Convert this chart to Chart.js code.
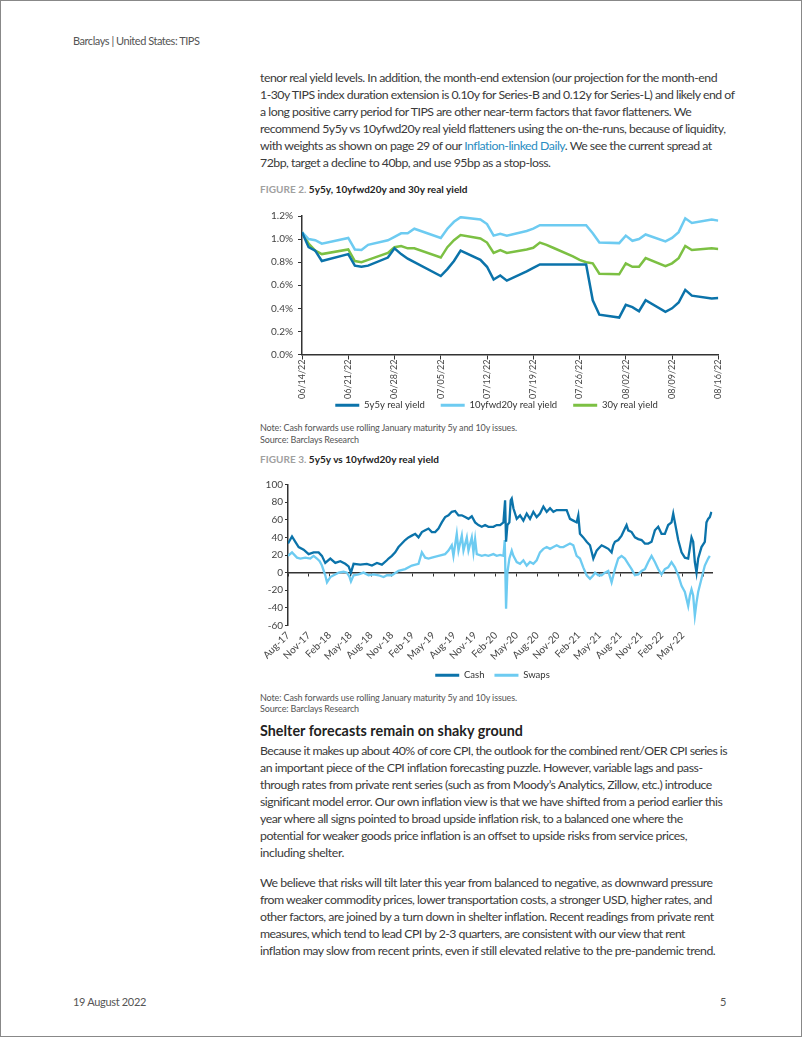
<!DOCTYPE html>
<html lang="en">
<head>
<meta charset="UTF-8">
<title>Barclays | United States: TIPS</title>
<script src="https://cdn.jsdelivr.net/npm/chart.js@4.4.0/dist/chart.umd.min.js"></script>
<style>
  html, body { margin: 0; padding: 0; }
  body { width: 802px; height: 1037px; position: relative; background: #fff; font-family: Lato, sans-serif; color: #333; overflow: hidden; }
  .frame { position: absolute; left: 0; top: 0; width: 802px; height: 1037px; border: 1px solid #888; box-sizing: border-box; }
  .abs { position: absolute; white-space: nowrap; }
  .txt { left: 260px; font-size: 12.3px; line-height: 17px; color: #3a3a3a; }
  .txt div { height: 17px; width: max-content; }
  .hdr { left: 73px; font-size: 11px; color: #555; width: max-content; }
  .cap { left: 260px; font-size: 10px; line-height: 14px; color: #222; font-weight: bold; width: max-content; }
  .cap span { color: #a0a0a0; font-weight: bold; }
  .note { left: 260px; font-size: 9px; line-height: 11.5px; color: #555; }
  .note div { width: max-content; }
  .head { left: 260px; font-size: 14.3px; line-height: 18px; font-weight: bold; color: #222; width: max-content; }
  a { color: #2a8dc2; text-decoration: none; }
  .box { position: absolute; }
</style>
</head>
<body>
<div class="frame"></div>
<div class="abs hdr" style="top:34px" data-r="199.5">Barclays | United States: TIPS</div>

<div class="abs txt" id="p1" style="top:68.5px">
  <div>tenor real yield levels. In addition, the month-end extension (our projection for the month-end</div>
  <div>1-30y TIPS index duration extension is 0.10y for Series-B and 0.12y for Series-L) and likely end of</div>
  <div>a long positive carry period for TIPS are other near-term factors that favor flatteners. We</div>
  <div>recommend 5y5y vs 10yfwd20y real yield flatteners using the on-the-runs, because of liquidity,</div>
  <div>with weights as shown on page 29 of our <a>Inflation-linked Daily</a>. We see the current spread at</div>
  <div>72bp, target a decline to 40bp, and use 95bp as a stop-loss.</div>
</div>

<div class="abs cap" style="top:182px" data-r="467.5"><span>FIGURE 2.</span> 5y5y, 10yfwd20y and 30y real yield</div>
<div class="box" style="left:255px; top:200px; width:483px; height:220px;"><canvas id="realYield"></canvas></div>
<div class="abs note" style="top:422px"><div data-r="517">Note: Cash forwards use rolling January maturity 5y and 10y issues.</div><div data-r="359">Source: Barclays Research</div></div>

<div class="abs cap" style="top:452px" data-r="439"><span>FIGURE 3.</span> 5y5y vs 10yfwd20y real yield</div>
<div class="box" style="left:255px; top:470px; width:475px; height:220px;"><canvas id="spread"></canvas></div>
<div class="abs note" style="top:691.5px"><div data-r="517">Note: Cash forwards use rolling January maturity 5y and 10y issues.</div><div data-r="359">Source: Barclays Research</div></div>

<div class="abs head" style="top:721.7px" data-r="523">Shelter forecasts remain on shaky ground</div>
<div class="abs txt" style="top:742.2px">
  <div class="ref" data-r="727">Because it makes up about 40% of core CPI, the outlook for the combined rent/OER CPI series is</div>
  <div class="ref" data-r="703">an important piece of the CPI inflation forecasting puzzle. However, variable lags and pass-</div>
  <div class="ref" data-r="712">through rates from private rent series (such as from Moody’s Analytics, Zillow, etc.) introduce</div>
  <div class="ref" data-r="722">significant model error. Our own inflation view is that we have shifted from a period earlier this</div>
  <div class="ref" data-r="683">year where all signs pointed to broad upside inflation risk, to a balanced one where the</div>
  <div class="ref" data-r="687">potential for weaker goods price inflation is an offset to upside risks from service prices,</div>
  <div data-r="344">including shelter.</div>
</div>
<div class="abs txt" style="top:873.8px">
  <div class="ref" data-r="713">We believe that risks will tilt later this year from balanced to negative, as downward pressure</div>
  <div class="ref" data-r="712">from weaker commodity prices, lower transportation costs, a stronger USD, higher rates, and</div>
  <div class="ref" data-r="714">other factors, are joined by a turn down in shelter inflation. Recent readings from private rent</div>
  <div class="ref" data-r="685">measures, which tend to lead CPI by 2-3 quarters, are consistent with our view that rent</div>
  <div class="ref" data-r="716">inflation may slow from recent prints, even if still elevated relative to the pre-pandemic trend.</div>
</div>

<div class="abs hdr" style="top:995px" data-r="146">19 August 2022</div>
<div class="abs hdr" style="top:995px; left:720px">5</div>

<script>
// ---- Figure 2 data (daily, business days) ----
const dates = ['06/14/22','06/15/22','06/16/22','06/17/22','06/21/22','06/22/22','06/23/22','06/24/22','06/27/22','06/28/22',
  '06/29/22','06/30/22','07/01/22','07/05/22','07/06/22','07/07/22','07/08/22','07/11/22','07/12/22','07/13/22',
  '07/14/22','07/15/22','07/18/22','07/19/22','07/20/22','07/21/22','07/22/22','07/25/22','07/26/22','07/27/22',
  '07/28/22','07/29/22','08/01/22','08/02/22','08/03/22','08/04/22','08/05/22','08/08/22','08/09/22','08/10/22',
  '08/11/22','08/12/22','08/15/22','08/16/22'];
const y5y5 = [1.06,0.93,0.90,0.81,0.87,0.77,0.76,0.77,0.84,0.92,
  0.87,0.83,0.80,0.68,0.74,0.81,0.90,0.82,0.76,0.65,
  0.685,0.64,0.72,0.75,0.78,0.78,0.78,0.78,0.78,0.78,
  0.47,0.345,0.32,0.43,0.41,0.375,0.47,0.37,0.40,0.45,
  0.56,0.51,0.485,0.49];
const y10f20 = [1.06,1.00,0.99,0.96,1.01,0.91,0.905,0.95,0.99,1.02,
  1.05,1.05,1.09,1.01,1.09,1.15,1.19,1.17,1.13,1.03,
  1.045,1.03,1.07,1.09,1.12,1.12,1.12,1.12,1.12,1.12,
  1.05,0.97,0.965,1.03,0.985,1.00,1.04,0.98,1.01,1.06,
  1.18,1.14,1.17,1.16];
const y30 = [1.06,0.96,0.90,0.87,0.91,0.81,0.80,0.82,0.88,0.93,
  0.94,0.92,0.92,0.84,0.93,0.99,1.035,1.005,0.97,0.88,
  0.905,0.88,0.91,0.925,0.97,0.95,0.925,0.85,0.82,0.80,
  0.79,0.70,0.695,0.79,0.76,0.76,0.835,0.765,0.79,0.835,
  0.94,0.905,0.92,0.915];

// ---- Figure 3 data (x = months since Aug-17, bp) ----
const cashT = [0,0.58,1.06,1.54,2.26,2.98,3.70,4.42,4.90,5.38,6.11,6.83,7.55,8.27,8.75,9.09,9.47,10.43,11.39,12.12,12.84,13.56,14.28,
  14.52,15.0,15.48,15.96,16.44,16.92,17.40,17.88,18.37,18.85,19.33,19.81,20.29,20.77,21.25,21.73,22.21,22.69,23.17,23.65,24.13,24.62,25.10,25.58,26.06,26.54,27.02,27.5,27.98,28.46,28.94,
  29.66,30.14,30.63,31.11,31.35,31.49,31.68,31.97,32.16,32.31,32.55,33.03,33.51,33.99,34.47,34.95,35.43,35.91,36.39,36.88,37.36,37.84,38.32,38.80,39.28,39.76,40.24,40.72,41.2,41.68,41.92,42.16,42.64,43.13,43.61,44.09,44.57,
  44.81,45.29,45.77,46.25,46.73,46.97,47.21,47.69,48.17,48.65,48.89,49.13,49.62,50.10,50.58,51.06,51.54,52.02,52.5,52.98,53.46,53.94,54.42,54.9,55.38,55.63,55.87,56.35,56.83,57.31,57.79,58.27,58.51,58.75,58.99,59.23,59.71,60.19,60.43,60.67,60.91,61.15];
const cashV = [33,41,35,29,26,21,23,23,19,11,16,11,13,10,7,0,10,9,10,8,11,9,14,
  16,19,23,29,33,37,40,42,44,40,46,48,50,46,46,50,57,63,65,69,70,65,65,63,61,64,57,54,52,54,52,
  52,54,54,57,82,35,54,57,82,84,73,61,65,59,67,61,69,63,67,75,69,73,69,71,71,71,71,61,59,57,65,44,40,35,31,16,25,
  27,31,29,27,23,31,35,37,42,50,54,48,46,40,38,37,33,33,35,48,52,44,44,54,57,67,57,37,23,17,16,40,35,12,0,16,29,35,57,61,63,69];
const swapT = [0,0.58,1.30,1.78,2.5,3.22,3.70,4.18,4.57,4.90,5.38,5.63,6.11,6.59,7.31,8.03,8.51,8.89,9.09,9.47,10.19,10.91,11.63,12.36,13.08,13.80,14.28,
  15.0,15.96,16.92,17.88,18.85,19.33,19.81,20.29,20.77,21.73,22.69,23.17,23.65,23.89,24.37,24.62,25.10,25.34,25.82,26.06,26.54,26.78,27.02,27.26,27.98,28.46,28.94,
  29.66,30.14,30.63,31.11,31.30,31.49,31.68,31.97,32.31,32.55,33.03,33.51,33.99,34.47,34.95,35.43,35.91,36.39,36.88,37.36,37.84,38.32,38.80,39.28,39.76,40.24,40.72,41.2,41.68,42.16,42.64,43.13,43.61,44.09,
  44.33,44.81,45.29,45.77,46.25,46.73,47.21,47.69,48.17,48.65,49.13,49.62,50.10,50.58,51.06,51.54,52.02,52.5,52.98,53.46,53.94,54.42,54.9,55.38,55.87,56.35,56.83,57.31,57.79,58.03,58.27,58.51,58.75,58.99,59.23,59.71,60.19,60.67,60.91];
const swapV = [19,23,17,16,17,16,19,16,13,8,-3,-11,-5,-3,0,1,0,-5,-10,-3,-2,0,-3,-2,-3,-5,-3,
  -3,2,4,8,10,23,17,16,17,19,21,25,31,19,44,25,42,25,40,25,40,23,38,21,19,20,19,
  21,19,20,19,37,-41,0,16,25,19,12,10,14,8,12,10,14,23,27,29,27,29,31,29,29,31,33,31,19,16,6,-3,-7,-3,
  0,-3,-3,0,2,-11,4,16,19,16,10,4,-3,-2,2,4,12,19,12,4,-2,4,6,12,6,-3,-15,-22,-38,-26,-19,-26,-49,-34,-22,-7,8,16,19];
const quarterLabels = ['Aug-17','Nov-17','Feb-18','May-18','Aug-18','Nov-18','Feb-19','May-19','Aug-19','Nov-19',
  'Feb-20','May-20','Aug-20','Nov-20','Feb-21','May-21','Aug-21','Nov-21','Feb-22','May-22'];

// squeeze text lines to the width they have in the original page;
// the first paragraph gets the mean spacing of the body lines below
function fitText() {
  let sum = 0, cnt = 0;
  document.querySelectorAll('[data-r]').forEach(el => {
    el.style.letterSpacing = '0px';
    const box = el.getBoundingClientRect();
    const n = el.textContent.trim().length;
    const ls = (+el.dataset.r - box.right) / n;
    el.style.letterSpacing = ls + 'px';
    if (el.classList.contains('ref')) { sum += ls; cnt++; }
  });
  document.getElementById('p1').style.letterSpacing = (sum / cnt) + 'px';
}
fitText();
if (document.fonts) document.fonts.ready.then(fitText);

const DARK = '#0b73aa', LIGHT = '#6dcbf1', GREEN = '#7cc043', AXIS = '#333';

Chart.defaults.font.family = 'Lato, sans-serif';
Chart.defaults.font.size = 10;
Chart.defaults.color = '#444';
Chart.defaults.animation = false;

// day offset from first date
const t0 = new Date('2022-06-14T00:00:00');
function dayOf(s) {
  const [m, d, y] = s.split('/');
  return Math.round((new Date('20' + y + '-' + m + '-' + d + 'T00:00:00') - t0) / 86400000);
}
function dateLabel(n) {
  const d = new Date(t0.getTime() + n * 86400000);
  return String(d.getMonth() + 1).padStart(2, '0') + '/' + String(d.getDate()).padStart(2, '0') + '/22';
}
const days = dates.map(dayOf);
const pts = (xs, ys) => xs.map((x, i) => ({x: x, y: ys[i]}));

const legendLabels = {
  boxWidth: 24, boxHeight: 3, font: {size: 9.5}, color: '#333',
  generateLabels: c => Chart.defaults.plugins.legend.labels.generateLabels(c).map(l => Object.assign(l, {lineWidth: 0}))
};
// empty bottom axis that only reserves room under the plot
const spacer = (h, right) => ({
  type: 'linear', position: 'bottom', min: 0, max: 1,
  grid: {display: false}, border: {display: false}, ticks: {display: false},
  afterFit: s => { s.height = h; s.paddingRight = right; }
});

new Chart(document.getElementById('realYield'), {
  type: 'line',
  data: {
    datasets: [
      {label: '5y5y real yield', data: pts(days, y5y5), borderColor: DARK, backgroundColor: DARK, borderWidth: 2.5},
      {label: '10yfwd20y real yield', data: pts(days, y10f20), borderColor: LIGHT, backgroundColor: LIGHT, borderWidth: 2.5},
      {label: '30y real yield', data: pts(days, y30), borderColor: GREEN, backgroundColor: GREEN, borderWidth: 2.5}
    ]
  },
  options: {
    responsive: true, maintainAspectRatio: false,
    elements: {point: {radius: 0}, line: {tension: 0}},
    layout: {padding: {top: 16, right: 0, left: 0, bottom: 0}},
    scales: {
      x: {
        type: 'linear', position: {y: 0}, min: 0, max: 63,
        grid: {display: true, drawOnChartArea: false, drawTicks: true, tickLength: 4, color: AXIS},
        border: {display: true, color: AXIS, width: 1.5},
        ticks: {stepSize: 7, minRotation: 90, maxRotation: 90, padding: 1, font: {size: 9}, callback: v => dateLabel(v)}
      },
      xb: spacer(30, 19.7),
      y: {
        min: 0, max: 1.2,
        afterFit: s => { s.width = 47; },
        grid: {display: true, drawOnChartArea: false, drawTicks: true, tickLength: 4, color: AXIS},
        border: {display: true, color: AXIS, width: 1.5},
        ticks: {stepSize: 0.2, padding: 5, callback: v => v.toFixed(1) + '%'}
      }
    },
    plugins: {
      legend: {position: 'bottom', labels: Object.assign({padding: 16}, legendLabels)},
      tooltip: {enabled: false}
    }
  }
});

new Chart(document.getElementById('spread'), {
  type: 'line',
  data: {
    datasets: [
      {label: 'Cash', data: pts(cashT, cashV), borderColor: DARK, backgroundColor: DARK, borderWidth: 2.3},
      {label: 'Swaps', data: pts(swapT, swapV), borderColor: LIGHT, backgroundColor: LIGHT, borderWidth: 2.3}
    ]
  },
  options: {
    responsive: true, maintainAspectRatio: false,
    elements: {point: {radius: 0}, line: {tension: 0}},
    layout: {padding: {top: 14.5, right: 0, left: 0, bottom: 0}},
    scales: {
      x: {
        type: 'linear', min: 0, max: 61.3,
        afterFit: s => { s.height = 35; s.paddingRight = 17.5; },
        grid: {display: false, drawTicks: false},
        border: {display: false},
        ticks: {stepSize: 3, includeBounds: false, autoSkip: false, minRotation: 45, maxRotation: 45, padding: 4,
          callback: v => quarterLabels[Math.round(v / 3)] || ''}
      },
      x2: {
        type: 'linear', axis: 'x', position: {y: 0}, min: 0, max: 61.3,
        grid: {display: true, drawOnChartArea: false, drawTicks: true, tickLength: 3, color: AXIS},
        border: {display: true, color: AXIS, width: 1.5},
        ticks: {display: false, stepSize: 3, includeBounds: false}
      },
      y: {
        min: -60, max: 100,
        afterFit: s => { s.width = 33; },
        grid: {display: true, drawOnChartArea: false, drawTicks: true, tickLength: 3, color: AXIS},
        border: {display: true, color: AXIS, width: 1.5},
        ticks: {stepSize: 20, padding: 2}
      }
    },
    plugins: {
      legend: {position: 'bottom', labels: Object.assign({padding: 10}, legendLabels)},
      tooltip: {enabled: false}
    }
  }
});
</script>
</body>
</html>
